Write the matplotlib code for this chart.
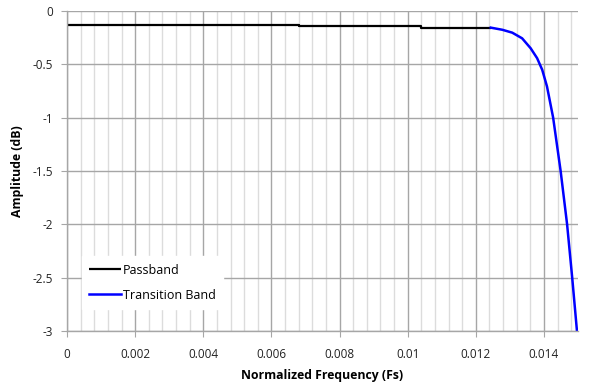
import numpy as np
import matplotlib.pyplot as plt
from matplotlib.ticker import MultipleLocator

# passband (steps)
pass_f = [0.0, 0.0068, 0.0068, 0.0104, 0.0104, 0.01244]
pass_db = [-0.133, -0.133, -0.145, -0.145, -0.158, -0.158]

# transition band
trans_f = [0.01244, 0.01278, 0.01307, 0.01336, 0.01361, 0.01380, 0.01395,
           0.01409, 0.01427, 0.01449, 0.01468, 0.01483, 0.01497, 0.01500]
trans_db = [-0.158, -0.178, -0.205, -0.258, -0.351, -0.444, -0.553,
            -0.709, -1.0, -1.5, -2.0, -2.5, -3.0, -3.1]

plt.rcParams['font.family'] = ['Open Sans', 'DejaVu Sans']

fig = plt.figure(figsize=(5.89, 3.85), dpi=100)
ax = fig.add_axes([0.1138, 0.1403, 0.8675, 0.8317])

ax.plot(pass_f, pass_db, color="black", lw=1.6, label="Passband", solid_capstyle="butt")
ax.plot(trans_f, trans_db, color="#0000ff", lw=1.8, label="Transition Band")

ax.set_xlim(0, 0.015)
ax.set_ylim(-3, 0)
ax.xaxis.set_minor_locator(MultipleLocator(0.0004))
ax.set_xticks([0, 0.002, 0.004, 0.006, 0.008, 0.01, 0.012, 0.014])
ax.set_xticklabels(["0", "0.002", "0.004", "0.006", "0.008", "0.01", "0.012", "0.014"])
ax.set_yticks([0, -0.5, -1, -1.5, -2, -2.5, -3])
ax.set_yticklabels(["0", "-0.5", "-1", "-1.5", "-2", "-2.5", "-3"])

ax.grid(which="major", color="#a6a6a6", lw=1.0)
ax.grid(which="minor", axis="x", color="#dcdcdc", lw=1.0)
ax.set_axisbelow(True)

for s in ["top", "right"]:
    ax.spines[s].set_visible(False)
for s in ["left", "bottom"]:
    ax.spines[s].set_color("#a6a6a6")
    ax.spines[s].set_linewidth(1.0)
ax.tick_params(which="major", length=4, color="#a6a6a6", labelsize=8.5, labelcolor="#222222", pad=8)
ax.tick_params(which="minor", length=0)
ax.tick_params(axis="y", pad=6)

ax.set_xlabel("Normalized Frequency (Fs)", fontsize=8.8, fontweight="bold", labelpad=6)
ax.set_ylabel("Amplitude (dB)", fontsize=8.8, fontweight="bold", labelpad=6)

leg = ax.legend(loc="lower left", bbox_to_anchor=(0.029, 0.068), borderaxespad=0, fontsize=9,
                frameon=True, fancybox=False, framealpha=1, edgecolor="white",
                handlelength=2.5, handletextpad=0.2, labelspacing=0.95, borderpad=0.6)

fig.savefig("out.png", dpi=100)
